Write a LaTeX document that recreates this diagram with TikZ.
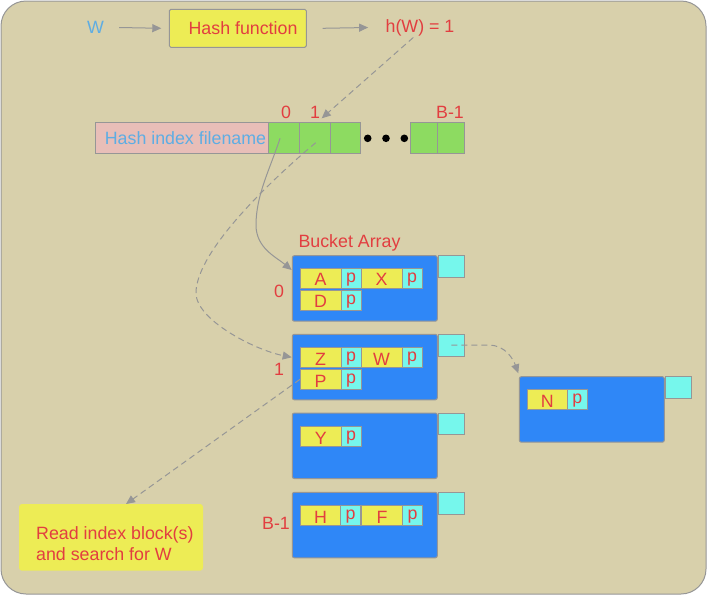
\documentclass[tikz,border=0pt]{standalone}
\usepackage{fontspec}
\setmainfont{Liberation Sans}
\usetikzlibrary{arrows.meta,calc}
\definecolor{bg}{RGB}{216,208,171}
\definecolor{lgray}{RGB}{150,150,150}
\definecolor{kyel}{RGB}{237,236,85}
\definecolor{pcyan}{RGB}{118,247,236}
\definecolor{bblue}{RGB}{47,135,247}
\definecolor{cgreen}{RGB}{141,219,97}
\definecolor{pinkbox}{RGB}{232,190,184}
\definecolor{tred}{RGB}{226,62,64}
\definecolor{tblue}{RGB}{94,173,227}
\begin{document}
\begin{tikzpicture}[x=1pt,y=-1pt,
  font=\fontsize{17.8}{21}\selectfont,
  base/.style={draw=lgray, line width=1pt, inner sep=0pt, outer sep=0pt, anchor=north west, text=tred},
  key/.style={base, fill=kyel, minimum width=41pt, minimum height=20pt, text height=15.4pt, text depth=0pt},
  ptr/.style={base, fill=pcyan, minimum width=20pt, minimum height=20pt, text height=10pt, text depth=2pt},
  bucket/.style={base, fill=bblue, rounded corners=2pt, minimum width=145pt, minimum height=65.5pt},
  ovf/.style={base, fill=pcyan, minimum width=26pt, minimum height=21.7pt},
  cellg/.style={base, fill=cgreen, minimum height=31pt},
  dotnode/.style={circle, fill=black, minimum size=7.6pt, inner sep=0pt},
  lbl/.style={text=tred, inner sep=0pt},
  arr/.style={draw=lgray, line width=1pt, -{Triangle[length=9pt,width=8pt]}},
  darr/.style={arr, dash pattern=on 6pt off 4pt}]
\useasboundingbox (0,0) rectangle (707,595);
\draw[draw=lgray, line width=1pt, fill=bg, rounded corners=25pt] (1,1) rectangle (706,594);

% top row
\node[lbl, text=tblue] (w) at (95.5,27.5) {W};
\node[base, fill=kyel, rounded corners=1.5pt, minimum width=137pt, minimum height=38pt] (hf) at (169.3,9.3) {\hspace*{10.5pt}Hash function};
\node[lbl] (h) at (420,27.5) {h(W) = 1};

% hash index file
\node[base, fill=pinkbox, minimum width=173pt, minimum height=31pt, text=tblue] (hi) at (95.7,122.3) {\hspace*{6.6pt}Hash index filename};
\node[cellg, minimum width=30.3pt] (g0) at (268.7,122.3) {};
\node[cellg, minimum width=31pt] (g1) at (299,122.3) {};
\node[cellg, minimum width=30.7pt] (g2) at (330,122.3) {};
\node[cellg, minimum width=26.6pt] (gb2) at (410.7,122.3) {};
\node[cellg, minimum width=27pt] (gb1) at (437.3,122.3) {};
\node[dotnode] (d1) at (367.7,138.3) {};
\node[dotnode] (d2) at (386,138.3) {};
\node[dotnode] (d3) at (404.3,138.3) {};
\node[lbl] (l0) at (286,112) {0};
\node[lbl] (l1) at (315,112) {1};
\node[lbl] (lb) at (450,112) {B-1};

% buckets
\node[lbl] (ba) at (349.5,242.7) {Bucket Array};
\node[bucket] (b0) at (292.3,255.7) {};
\node[bucket] (b1) at (292.3,334.3) {};
\node[bucket] (b2) at (292.3,413) {};
\node[bucket] (b3) at (292.3,492.3) {};
\node[ovf] (c0) at (438.3,255.7) {};
\node[ovf] (c1) at (438.3,334.3) {};
\node[ovf] (c2) at (438.3,413) {};
\node[ovf] (c3) at (438.3,492.3) {};
\node[bucket] (nb) at (519.3,376.7) {};
\node[ovf] (nc) at (665.7,376.7) {};

\node[lbl] (r0) at (279,291) {0};
\node[lbl] (r1) at (279,369) {1};
\node[lbl] (rb) at (276,523) {B-1};

% bucket 0
\node[key] (kA) at (300,268) {A};
\node[ptr] (pA) at (341,268) {p};
\node[key] (kX) at (361,268) {X};
\node[ptr] (pX) at (402,268) {p};
\node[key] (kD) at (300,290) {D};
\node[ptr] (pD) at (341,290) {p};
% bucket 1
\node[key] (kZ) at (300,347.3) {Z};
\node[ptr] (pZ) at (341,347.3) {p};
\node[key] (kW) at (361,347.3) {W};
\node[ptr] (pW) at (402,347.3) {p};
\node[key] (kP) at (300,369.3) {P};
\node[ptr] (pP) at (341,369.3) {p};
% bucket 2
\node[key] (kY) at (300.3,426.7) {Y};
\node[ptr] (pY) at (341,426.7) {p};
% bucket B-1
\node[key] (kH) at (300,505.7) {H};
\node[ptr] (pH) at (340.5,505.7) {p};
\node[key] (kF) at (361.5,505.7) {F};
\node[ptr] (pF) at (402.5,505.7) {p};
% overflow bucket
\node[key, minimum width=40pt] (kN) at (527.3,389.3) {N};
\node[ptr] (pN) at (567.3,389.3) {p};

% read box
\node[base, draw=none, fill=kyel, rounded corners=3pt, minimum width=184pt, minimum height=66.7pt] (rd) at (19,504) {};
\node[lbl, align=left, anchor=west] (rdt) at (36,543.5) {Read index block(s)\\and search for W};

% connectors
\draw[arr] ([xshift=15pt]w.east) -- ([xshift=-8pt]hf.west);
\draw[arr] ([xshift=16.4pt]hf.east) -- ([xshift=-17.3pt]h.west);
\draw[darr] ($(h.south)+(-6.7,1.5)$) -- ($(g1.north)+(7.2,-4)$);
\draw[arr] ($(g0.center)+(-3.8,0.5)$) .. controls (270,169) and (256,195) .. (256,225)
  .. controls (256,248) and (276,257) .. ($(b0.north west)+(-0.6,14.3)$);
\draw[darr] ($(g1.center)+(1.2,4.9)$) .. controls (276,176) and (196,250) .. (196,293)
  .. controls (196,320) and (255,350) .. ($(b1.north west)+(-0.6,23)$);
\draw[darr] (c1.center) -- ++(38,0) .. controls +(16,0) and +(-5,-14) .. ($(nb.north west)+(-1,-3.4)$);
\draw[darr] (kP.west) -- ($(rd.north)+(15,0)$);
\end{tikzpicture}
\end{document}
